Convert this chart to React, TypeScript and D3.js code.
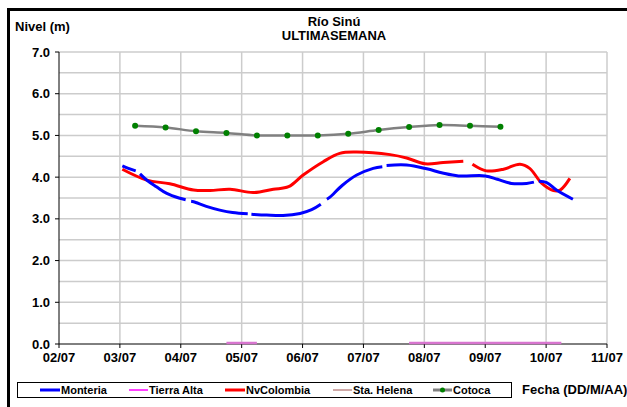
import React from "react";
import * as d3 from "d3";

type Pt = [number, number] | null;

const xTickDays = [2, 3, 4, 5, 6, 7, 8, 9, 10, 11];
const xTickLabels = ["02/07", "03/07", "04/07", "05/07", "06/07", "07/07", "08/07", "09/07", "10/07", "11/07"];
const yTicks = [0, 1, 2, 3, 4, 5, 6, 7];
const yGridLines = [0.5, 1, 1.5, 2, 2.5, 3, 3.5, 4, 4.5, 5, 5.5, 6, 6.5, 7];

const monteria: Pt[] = [
  [3.04, 4.27], [3.14, 4.21], [3.26, 4.15], null,
  [3.33, 4.08], [3.45, 3.92], [3.6, 3.77], [3.77, 3.61], [3.97, 3.5], [4.08, 3.46], null,
  [4.17, 3.42], [4.21, 3.41], [4.42, 3.3], [4.64, 3.21], [4.85, 3.15], [5.1, 3.12], null,
  [5.16, 3.11], [5.41, 3.09], [5.68, 3.08], [5.96, 3.13], [6.15, 3.22], [6.3, 3.35], null,
  [6.4, 3.47], [6.45, 3.52], [6.65, 3.8], [6.89, 4.05], [7.16, 4.21], [7.31, 4.25], null,
  [7.38, 4.28], [7.71, 4.29], [8.04, 4.2], [8.3, 4.1], [8.56, 4.03], [9.0, 4.03], [9.2, 3.95],
  [9.43, 3.85], [9.68, 3.85], [9.8, 3.88], null,
  [9.88, 3.9], [10.01, 3.87], [10.17, 3.69], [10.44, 3.47],
];

const tierraAlta: Pt[] = [
  [4.75, 0], [5.25, 0], null,
  [7.75, 0], [10.25, 0],
];

const nvColombia: Pt[] = [
  [3.04, 4.19], [3.44, 3.93], [3.82, 3.84], [4.21, 3.69], [4.48, 3.68], [4.81, 3.71],
  [5.19, 3.63], [5.52, 3.71], [5.77, 3.77], [6.01, 4.05], [6.34, 4.37], [6.61, 4.57],
  [6.89, 4.6], [7.44, 4.54], [7.71, 4.46], [8.01, 4.32], [8.31, 4.35], [8.64, 4.38], null,
  [8.79, 4.31], [9.02, 4.15], [9.3, 4.19], [9.57, 4.31], [9.73, 4.21], [9.93, 3.85],
  [10.12, 3.68], [10.23, 3.69], [10.39, 3.97],
];

const cotocaDays = [3.25, 3.75, 4.25, 4.75, 5.25, 5.75, 6.25, 6.75, 7.25, 7.75, 8.25, 8.75, 9.25];
const cotocaValues = [5.23, 5.19, 5.1, 5.06, 5.0, 5.0, 5.0, 5.04, 5.13, 5.2, 5.25, 5.23, 5.21];

const legendNames = ["Monteria", "Tierra Alta", "NvColombia", "Sta. Helena", "Cotoca"];
const legendColors = ["#0000ff", "#ff00ff", "#ff0000", "#a0524f", "#808080"];

export default function App() {
  const x = d3.scaleLinear().domain([2, 11]).range([59, 607]);
  const y = d3.scaleLinear().domain([0, 7]).range([344, 52]);

  const line = d3
    .line<Pt>()
    .defined((d) => d !== null)
    .x((d) => x((d as [number, number])[0]))
    .y((d) => y((d as [number, number])[1]))
    .curve(d3.curveCatmullRom.alpha(0.5));

  const cotoca: Pt[] = cotocaDays.map((d, i) => [d, cotocaValues[i]]);

  const font = "'Liberation Sans', Arial, sans-serif";
  const legendX = [40, 129, 225, 333, 433];
  const legendW = [20, 19, 20, 19, 19];
  const legendSW = [3, 1.5, 3, 1, 3];

  return (
    <svg
      width={627}
      height={407}
      style={{ position: "absolute", left: 0, top: 0, background: "#fff" }}
      fontFamily={font}
    >
      {/* outer frame */}
      <rect x={8.5} y={9.5} width={700} height={500} fill="none" stroke="#000" strokeWidth={3} />

      {/* titles */}
      <text x={334} y={26} textAnchor="middle" fontSize={13} fontWeight="bold">Río Sinú</text>
      <text x={334} y={40} textAnchor="middle" fontSize={13} fontWeight="bold">ULTIMASEMANA</text>
      <text x={15} y={31} fontSize={13} fontWeight="bold">Nivel (m)</text>

      {/* gridlines */}
      {yGridLines.map((v) => (
        <line key={"hg" + v} x1={x(2)} x2={x(11)} y1={y(v)} y2={y(v)} stroke="#cccccc" strokeWidth={1.5} />
      ))}
      {xTickDays.slice(1).map((d) => (
        <line key={"vg" + d} x1={x(d)} x2={x(d)} y1={y(0)} y2={y(7)} stroke="#cccccc" strokeWidth={1.5} />
      ))}

      {/* axes */}
      <line x1={x(2)} x2={x(11)} y1={y(0)} y2={y(0)} stroke="#000" strokeWidth={1} />
      <line x1={x(2)} x2={x(2)} y1={y(0)} y2={y(7)} stroke="#000" strokeWidth={1} />
      {yTicks.map((v) => (
        <g key={"yt" + v}>
          <line x1={x(2) - 4} x2={x(2)} y1={y(v)} y2={y(v)} stroke="#000" />
          <text x={x(2) - 9} y={y(v) + 4.5} textAnchor="end" fontSize={13} fontWeight="bold">
            {v.toFixed(1)}
          </text>
        </g>
      ))}
      {xTickDays.map((d, i) => (
        <g key={"xt" + d}>
          <line x1={x(d)} x2={x(d)} y1={y(0)} y2={y(0) + 4} stroke="#000" />
          <text x={x(d)} y={y(0) + 18} textAnchor="middle" fontSize={13} fontWeight="bold">
            {xTickLabels[i]}
          </text>
        </g>
      ))}

      {/* series */}
      <path d={line(tierraAlta) || ""} fill="none" stroke="#d875cf" strokeWidth={2.5} transform="translate(0,-1)" />
      <path d={line(cotoca) || ""} fill="none" stroke="#808080" strokeWidth={2.5} />
      {cotoca.map((d, i) => (
        <circle key={"cd" + i} cx={x(d![0])} cy={y(d![1])} r={3} fill="#008000" />
      ))}
      <path d={line(nvColombia) || ""} fill="none" stroke="#ff0000" strokeWidth={3} />
      <path d={line(monteria) || ""} fill="none" stroke="#0000ff" strokeWidth={3} />

      {/* legend */}
      <rect x={17.5} y={382.5} width={494} height={15} fill="#fff" stroke="#000" strokeWidth={1} />
      {legendNames.map((n, i) => (
        <g key={"lg" + n}>
          <line
            x1={legendX[i]}
            x2={legendX[i] + legendW[i]}
            y1={390}
            y2={390}
            stroke={legendColors[i]}
            strokeWidth={legendSW[i]}
          />
          {i === 4 && <circle cx={legendX[i] + legendW[i] / 2} cy={390} r={2.5} fill="#008000" />}
          <text x={legendX[i] + legendW[i] + 1} y={394} fontSize={11} fontWeight="bold">
            {n}
          </text>
        </g>
      ))}
      <text x={522} y={394} fontSize={13} fontWeight="bold">Fecha (DD/M/AA)</text>
    </svg>
  );
}
